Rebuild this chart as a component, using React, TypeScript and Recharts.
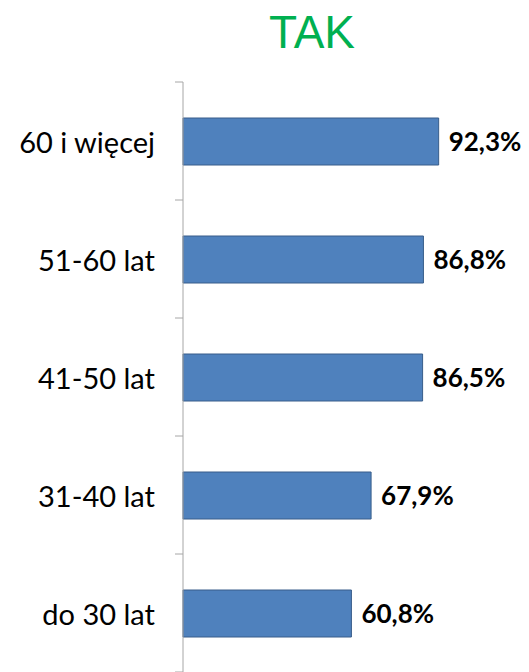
import React from 'react';
import { BarChart, Bar, XAxis, YAxis, LabelList } from 'recharts';

const ageGroups = ['60 i więcej', '51-60 lat', '41-50 lat', '31-40 lat', 'do 30 lat'];
const yesShare = [92.3, 86.8, 86.5, 67.9, 60.8];

const chartData = ageGroups.map((group, i) => ({ group, value: yesShare[i] }));

const formatPercent = (v: number) => `${v.toFixed(1).replace('.', ',')}%`;

const LABEL_GAP = 28;
const AXIS_GREY = '#a6a6a6';

// category label plus a short tick mark on the boundary above the band
// (and below the last one)
const GroupTick = (props: any) => {
  const { x, y, payload, index, visibleTicksCount } = props;
  const half = payload?.offset || 59;
  const axisX = x + LABEL_GAP;
  const last = index === (visibleTicksCount ?? ageGroups.length) - 1;
  return (
    <g>
      <line x1={axisX - 8} x2={axisX} y1={y - half} y2={y - half} stroke={AXIS_GREY} />
      {last && <line x1={axisX - 8} x2={axisX} y1={y + half} y2={y + half} stroke={AXIS_GREY} />}
      <text
        x={x}
        y={y}
        textAnchor="end"
        dominantBaseline="central"
        fill="#000"
        fontSize={29}
        fontFamily="Lato, sans-serif"
      >
        {payload.value}
      </text>
    </g>
  );
};

const App: React.FC = () => {
  return (
    <div style={{ position: 'absolute', left: 0, top: 0, width: 529, height: 672, background: '#fff' }}>
      <div
        style={{
          position: 'absolute',
          left: 0,
          top: 7,
          width: 624,
          textAlign: 'center',
          fontFamily: '"Liberation Sans", Arial, sans-serif',
          fontSize: 46,
          color: '#00B050',
          lineHeight: '50px',
        }}
      >
        TAK
      </div>
      <BarChart
        width={529}
        height={672}
        data={chartData}
        layout="vertical"
        margin={{ top: 82, right: 69, bottom: 0, left: 0 }}
        barCategoryGap={0}
      >
        <XAxis type="number" domain={[0, 100]} hide />
        <YAxis
          type="category"
          dataKey="group"
          width={183}
          tickLine={false}
          tickSize={0}
          tickMargin={LABEL_GAP}
          axisLine={{ stroke: AXIS_GREY }}
          tick={<GroupTick />}
          interval={0}
        />
        <Bar
          dataKey="value"
          fill="#4F81BD"
          stroke="#385D8A"
          strokeWidth={1}
          barSize={47}
          isAnimationActive={false}
        >
          <LabelList
            dataKey="value"
            position="right"
            offset={10}
            formatter={(v: number) => formatPercent(v)}
            style={{ fill: '#000', fontSize: 26, fontWeight: 700, fontFamily: 'Lato, sans-serif' }}
          />
        </Bar>
      </BarChart>
    </div>
  );
};

export default App;
